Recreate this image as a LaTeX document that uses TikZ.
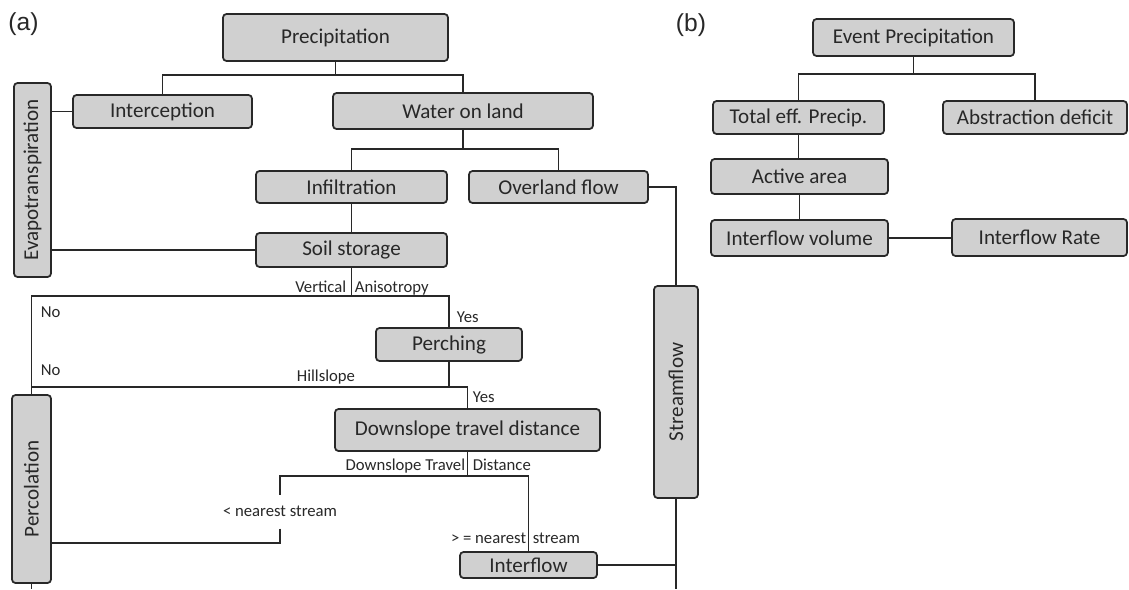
\documentclass[tikz,border=0pt]{standalone}
\usepackage{fontspec}
\setmainfont{Carlito}
\newfontfamily\tagfont{Liberation Sans}
\definecolor{boxgray}{RGB}{208,208,208}
\definecolor{ink}{RGB}{40,40,40}

\begin{document}
\begin{tikzpicture}[x=0.2mm, y=-0.2mm, color=ink, line width=1pt,
  box/.style 2 args={draw=ink, fill=boxgray, rounded corners=2pt, inner sep=0pt,
    minimum width=#1*0.2mm, minimum height=#2*0.2mm, font=\fontsize{12}{14}\selectfont},
  vbox/.style 2 args={box={#1}{#2}, rotate=90},
  lbl/.style={inner sep=0pt, font=\fontsize{9.5}{11}\selectfont},
  tag/.style={inner sep=0pt, font=\tagfont\fontsize{14}{16}\selectfont}]
\fill[white] (0,0) rectangle (1129,589);
\useasboundingbox (0,0) rectangle (1129,589);
% Panel (a): boxes
\node[tag] (taga) at (23.5,24) {(a)};
\node[box={225}{47}] (prec) at (335.5,37.5) {Precipitation};
\node[box={179}{33}] (icpt) at (162.5,111.5) {Interception};
\node[box={260}{36}] (wol) at (463,111) {Water on land};
\node[vbox={194}{37}] (evap) at (32.5,180) {Evapotranspiration};
\node[box={191}{32}] (infl) at (351.5,187) {Infiltration};
\node[box={179}{32}] (ovl) at (558.5,187) {Overland flow};
\node[box={191}{34}] (soil) at (351.5,250) {Soil storage};
\node[box={146}{33}] (perch) at (449,344.5) {Perching};
\node[box={265}{42}] (dtd) at (467.5,430) {Downslope travel distance};
\node[box={137}{26}] (intf) at (528.5,565) {Interflow};
\node[vbox={188}{39}] (perc) at (31.5,489) {Percolation};
\node[vbox={212}{44}] (strm) at (676,392) {Streamflow};
% Panel (a): branch labels
\node[lbl, anchor=base east] (va1) at (347,292) {Vertical};
\node[lbl, anchor=base west] (va2) at (354,292) {Anisotropy};
\node[lbl, anchor=west] (no1) at (40,312) {No};
\node[lbl, anchor=west] (yes1) at (456,317) {Yes};
\node[lbl, anchor=west] (no2) at (40,370) {No};
\node[lbl, anchor=base] (hsl) at (326,381) {Hillslope};
\node[lbl, anchor=west] (yes2) at (472,397) {Yes};
\node[lbl, anchor=base east] (dt1) at (466,470) {Downslope Travel};
\node[lbl, anchor=base west] (dt2) at (472,470) {Distance};
\node[lbl, text height=7pt, text depth=2pt, inner ysep=4.5pt] (ns) at (280,512) {< nearest stream};
\node[lbl, anchor=base east] (gt1) at (527,543) {> = nearest};
\node[lbl, anchor=base west] (gt2) at (532,543) {stream};
% Panel (a): connectors
\draw (prec.south) -- ++(0,13) coordinate (pj) -| (icpt.north);
\draw (pj) -| (wol.north);
\draw (wol.south) -- ++(0,19) coordinate (wj) -| (infl.north);
\draw (wj) -| (ovl.north);
\draw (infl.south) -- (soil.north);
\draw (icpt.west) -- (icpt.west -| evap.south);
\draw (soil.west) -- (soil.west -| evap.south);
\draw (ovl.east) -| (strm.east);
\draw (soil.south) -- ++(0,28) coordinate (vj);
\draw (perc.east) |- (vj) -| (perch.north);
\draw (perch.south) -- ++(0,25) coordinate (hj);
\draw (perc.east |- hj) -| (dtd.north);
\draw (dtd.south) -- ++(0,24) coordinate (dj) -| (intf.north);
\draw (dj) -| (ns.north);
\draw (ns.south) -- ++(0,14) coordinate (nj) -- (nj -| perc.south);
\draw (intf.east) -- (intf.east -| strm.west);
\draw (strm.west) -- (strm.west |- 0,589);
\draw (perc.west) -- (perc.west |- 0,589);
% Panel (b)
\node[tag] (tagb) at (691,25) {(b)};
\node[box={201}{37}] (evp) at (913.5,37.5) {Event Precipitation};
\node[box={171}{33}] (tep) at (798.5,117.5) {Total eff. Precip.};
\node[box={184}{33}] (abd) at (1035,117.5) {Abstraction deficit};
\node[box={177}{35}] (act) at (799.5,176.5) {Active area};
\node[box={177}{36}] (ivol) at (799.5,238) {Interflow volume};
\node[box={175}{37}] (irate) at (1039.5,237.5) {Interflow Rate};
\draw (evp.south) -- ++(0,17) coordinate (ej) -| (tep.north);
\draw (ej) -| (abd.north);
\draw (tep.south) -- (tep.south |- act.north);
\draw (act.south) -- (act.south |- ivol.north);
\draw (ivol.east) -- (ivol.east -| irate.west);
\end{tikzpicture}
\end{document}
